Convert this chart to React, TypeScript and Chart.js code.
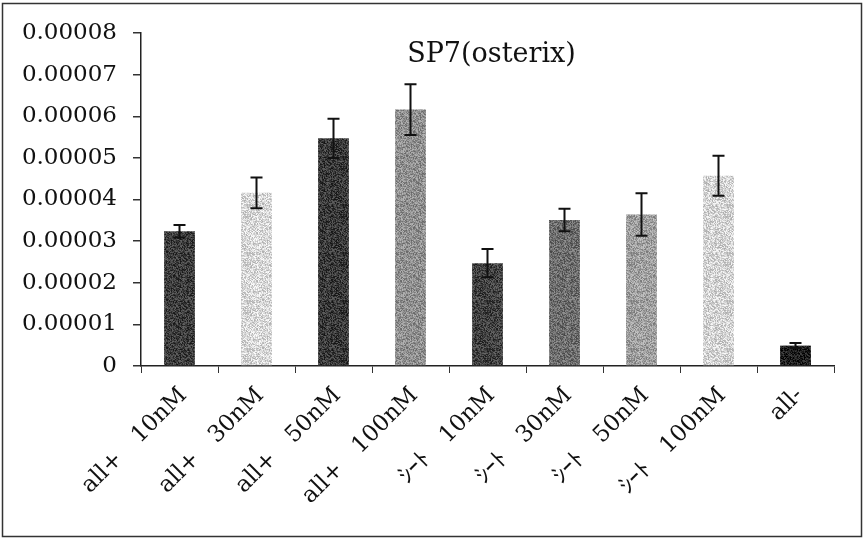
import React, { useEffect, useRef } from "react";
import { Chart, registerables } from "chart.js";

Chart.register(...registerables);

const chartTitle = "SP7(osterix)";
const categories = [
  "all+　10nM",
  "all+　30nM",
  "all+　50nM",
  "all+　100nM",
  "ｼｰﾄ　10nM",
  "ｼｰﾄ　30nM",
  "ｼｰﾄ　50nM",
  "ｼｰﾄ　100nM",
  "all-",
];
const means = [0.0000324, 0.0000416, 0.0000547, 0.0000616, 0.0000247, 0.0000351, 0.0000364, 0.0000457, 0.0000049];
const errors = [0.0000015, 0.0000037, 0.0000047, 0.0000061, 0.0000034, 0.0000027, 0.0000051, 0.0000048, 0.0000006];
const barColors = ["#3c3c3c", "#d6d6d6", "#393939", "#8e8e8e", "#404040", "#6c6c6c", "#9e9e9e", "#d3d3d3", "#1c1c1c"];
const yMin = 0;
const yMax = 0.00008;
const yStep = 0.00001;

const FONT = "'DejaVu Serif', 'Noto Sans CJK JP', serif";

// Speckled fill texture (deterministic hash), imitating the printed halftone look.
function makeTexture(color: string): CanvasPattern | string {
  const size = 48;
  const off = document.createElement("canvas");
  off.width = size;
  off.height = size;
  const c = off.getContext("2d");
  if (!c) return color;
  const base = parseInt(color.slice(1), 16);
  const r0 = (base >> 16) & 255;
  const g0 = (base >> 8) & 255;
  const b0 = base & 255;
  const img = c.createImageData(size, size);
  for (let y = 0; y < size; y++) {
    for (let x = 0; x < size; x++) {
      const s = Math.sin(x * 12.9898 + y * 78.233) * 43758.5453;
      const h = s - Math.floor(s);
      const d = (h - 0.5) * 80;
      const k = (y * size + x) * 4;
      img.data[k] = Math.max(0, Math.min(255, r0 + d));
      img.data[k + 1] = Math.max(0, Math.min(255, g0 + d));
      img.data[k + 2] = Math.max(0, Math.min(255, b0 + d));
      img.data[k + 3] = 255;
    }
  }
  c.putImageData(img, 0, 0);
  const p = c.createPattern(off, "repeat");
  return p || color;
}

export default function App() {
  const ref = useRef<HTMLCanvasElement>(null);

  useEffect(() => {
    document.body.style.margin = "0";
    const canvas = ref.current;
    if (!canvas) return;

    const framePlugin = {
      id: "frame",
      beforeDraw(chart: any) {
        const ctx = chart.ctx;
        ctx.save();
        ctx.fillStyle = "#ffffff";
        ctx.fillRect(0, 0, chart.width, chart.height);
        ctx.strokeStyle = "#333";
        ctx.lineWidth = 1.5;
        ctx.strokeRect(2.5, 3.5, chart.width - 4, chart.height - 6);
        ctx.restore();
      },
    };

    const errorBarPlugin = {
      id: "errorBars",
      afterDatasetsDraw(chart: any) {
        const ctx = chart.ctx;
        const meta = chart.getDatasetMeta(0);
        const yScale = chart.scales.y;
        ctx.save();
        ctx.strokeStyle = "#111";
        ctx.lineWidth = 2;
        meta.data.forEach((bar: any, i: number) => {
          const x = bar.x;
          const top = yScale.getPixelForValue(means[i] + errors[i]);
          const bot = yScale.getPixelForValue(means[i] - errors[i]);
          const cap = 6;
          ctx.beginPath();
          ctx.moveTo(x, top);
          ctx.lineTo(x, bot);
          ctx.moveTo(x - cap, top);
          ctx.lineTo(x + cap, top);
          ctx.moveTo(x - cap, bot);
          ctx.lineTo(x + cap, bot);
          ctx.stroke();
        });
        ctx.restore();
      },
    };

    const titlePlugin = {
      id: "innerTitle",
      afterDraw(chart: any) {
        const ctx = chart.ctx;
        const area = chart.chartArea;
        ctx.save();
        ctx.font = `27px ${FONT}`;
        ctx.fillStyle = "#111";
        ctx.textAlign = "center";
        ctx.textBaseline = "middle";
        ctx.fillText(chartTitle, (area.left + area.right) / 2 + 4, area.top + 22);
        ctx.restore();
      },
    };

    const chart = new Chart(canvas, {
      type: "bar",
      data: {
        labels: categories,
        datasets: [
          {
            data: means,
            backgroundColor: barColors.map(makeTexture),
            borderWidth: 0,
            barPercentage: 0.4,
            categoryPercentage: 1,
          },
        ],
      },
      options: {
        responsive: false,
        animation: false,
        devicePixelRatio: 1,
        layout: { padding: { left: 0, right: 29, top: 33, bottom: 0 } },
        plugins: {
          legend: { display: false },
          tooltip: { enabled: false },
          title: { display: false },
        },
        scales: {
          x: {
            grid: {
              drawOnChartArea: false,
              drawTicks: true,
              tickLength: 7,
              offset: true,
              color: "#333",
              lineWidth: 1,
            },
            border: { color: "#222", width: 1.5 },
            ticks: {
              autoSkip: false,
              minRotation: 45,
              maxRotation: 45,
              padding: 9,
              labelOffset: 4,
              color: "#111",
              font: { family: FONT, size: 23 },
            },
            afterFit(scale: any) {
              scale.height = 173;
            },
          },
          y: {
            min: yMin,
            max: yMax,
            grid: {
              drawOnChartArea: false,
              drawTicks: true,
              tickLength: 8,
              color: "#333",
              lineWidth: 1.5,
            },
            border: { color: "#222", width: 1.5 },
            ticks: {
              stepSize: yStep,
              padding: 16,
              color: "#111",
              font: { family: FONT, size: 23 },
              callback: (v: any) => (Number(v) === 0 ? "0" : Number(v).toFixed(5)),
            },
            afterFit(scale: any) {
              scale.width = 141;
            },
          },
        },
      },
      plugins: [framePlugin, errorBarPlugin, titlePlugin],
    });

    return () => chart.destroy();
  }, []);

  return <canvas ref={ref} width={863} height={539} style={{ display: "block" }} />;
}
